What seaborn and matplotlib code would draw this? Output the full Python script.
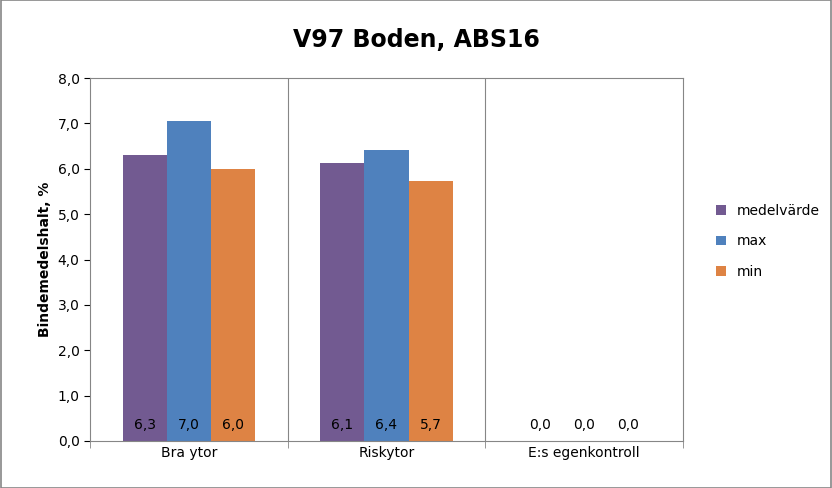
import matplotlib
matplotlib.use("Agg")
import matplotlib.pyplot as plt
import seaborn as sns
import pandas as pd
from matplotlib.ticker import FuncFormatter

categories = ["Bra ytor", "Riskytor", "E:s egenkontroll"]
series = ["medelvärde", "max", "min"]
medel = [6.3, 6.13, 0.0]
maxv = [7.05, 6.42, 0.0]
minv = [6.0, 5.73, 0.0]
colors = ["#725A91", "#4F81BD", "#DE8344"]

rows = []
for s, vals in zip(series, [medel, maxv, minv]):
    for c, v in zip(categories, vals):
        rows.append({"cat": c, "series": s, "val": v})
df = pd.DataFrame(rows)

fig = plt.figure(figsize=(8.32, 4.88), dpi=100)
ax = fig.add_axes([90/832, 1-441/488, 593/832, 363/488])
sns.barplot(data=df, x="cat", y="val", hue="series", palette=colors,
            width=0.67, ax=ax, errorbar=None, saturation=1, legend=True)
ax.set_ylim(0, 8)
ax.set_xlim(-0.5, 2.5)
ax.set_yticks([i for i in range(9)])
ax.yaxis.set_major_formatter(FuncFormatter(lambda v, p: f"{v:.1f}".replace(".", ",")))
ax.set_xlabel("")
ax.set_ylabel("Bindemedelshalt, %", fontsize=10, fontweight="bold")
for x in [0.5, 1.5]:
    ax.axvline(x, color="#868686", lw=0.8)
for sp in ["top", "right"]:
    ax.spines[sp].set_visible(True)
    ax.spines[sp].set_color("#868686")
for sp in ["left", "bottom"]:
    ax.spines[sp].set_color("#868686")
ax.tick_params(labelsize=10, colors="black", length=4)
ax.tick_params(axis="x", length=0)
ax.set_xticks([0, 1, 2])
ax.set_xticklabels(categories)
ax.set_xticks([-0.5, 0.5, 1.5, 2.5], minor=True)
ax.tick_params(axis="x", which="minor", length=5, color="#868686")

for cont in ax.containers:
    for bar in cont:
        v = bar.get_height()
        ax.text(bar.get_x() + bar.get_width()/2, 0.35, f"{v:.1f}".replace(".", ","),
                ha="center", va="center", fontsize=10)

leg = ax.legend(loc="center left", bbox_to_anchor=(1.035, 0.55), frameon=False,
                fontsize=10, handlelength=0.7, handleheight=0.7, labelspacing=1.2)
fig.suptitle("V97 Boden, ABS16", x=0.5, y=1-40/488, va="center",
             fontsize=17, fontweight="bold")
fig.patches.append(plt.Rectangle((0.001, 0.001), 0.998, 0.998, transform=fig.transFigure,
                                 fill=False, edgecolor="#868686", lw=1.2))
fig.savefig("out.png", dpi=100)
